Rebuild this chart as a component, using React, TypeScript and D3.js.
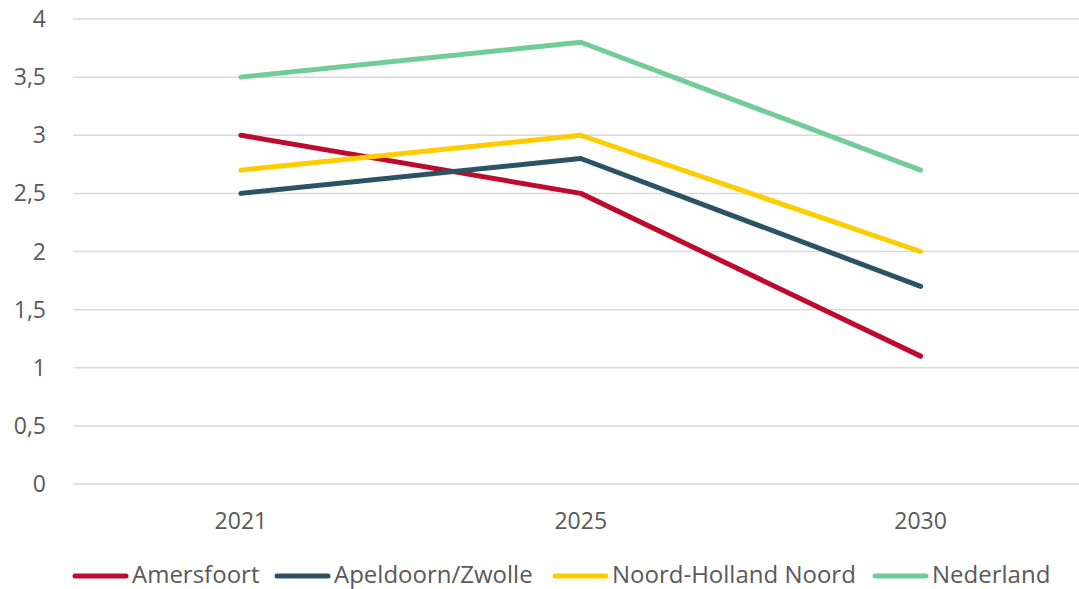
import React, { useEffect, useRef } from "react";
import * as d3 from "d3";

const categories = ["2021", "2025", "2030"];
const seriesNames = ["Amersfoort", "Apeldoorn/Zwolle", "Noord-Holland Noord", "Nederland"];
const amersfoort = [3.0, 2.5, 1.1];
const apeldoornZwolle = [2.5, 2.8, 1.7];
const noordHollandNoord = [2.7, 3.0, 2.0];
const nederland = [3.5, 3.8, 2.7];
const yTicks = [0, 0.5, 1, 1.5, 2, 2.5, 3, 3.5, 4];
const colors = ["#BE0A2F", "#2C5364", "#FFCC00", "#72CC98"];

const W = 1079;
const H = 589;

export default function App() {
  const ref = useRef<SVGSVGElement>(null);
  useEffect(() => {
    const svg = d3.select(ref.current);
    svg.selectAll("*").remove();
    const font = "'Open Sans', sans-serif";
    const txt = "#595959";
    const x = d3.scaleBand().domain(categories).range([71, 1090.5]);
    const y = d3.scaleLinear().domain([0, 4]).range([484, 19]);

    const g = svg.append("g");
    g.selectAll("line.grid")
      .data(yTicks)
      .enter()
      .append("line")
      .attr("x1", 73)
      .attr("x2", W)
      .attr("y1", (d) => y(d))
      .attr("y2", (d) => y(d))
      .attr("stroke", "#D9D9D9")
      .attr("stroke-width", 1.5);

    g.selectAll("text.ytick")
      .data(yTicks)
      .enter()
      .append("text")
      .attr("x", 46)
      .attr("y", (d) => y(d))
      .attr("dy", "0.35em")
      .attr("text-anchor", "end")
      .attr("font-family", font)
      .attr("font-size", 23)
      .attr("fill", txt)
      .text((d) => String(d).replace(".", ","));

    g.selectAll("text.xtick")
      .data(categories)
      .enter()
      .append("text")
      .attr("x", (d) => (x(d) as number) + x.bandwidth() / 2)
      .attr("y", 529)
      .attr("text-anchor", "middle")
      .attr("font-family", font)
      .attr("font-size", 23)
      .attr("fill", txt)
      .text((d) => d);

    const data = [amersfoort, apeldoornZwolle, noordHollandNoord, nederland];
    const line = d3
      .line<number>()
      .x((_, i) => (x(categories[i]) as number) + x.bandwidth() / 2)
      .y((d) => y(d));
    data.forEach((vals, i) => {
      g.append("path")
        .attr("d", line(vals))
        .attr("fill", "none")
        .attr("stroke", colors[i])
        .attr("stroke-width", 5)
        .attr("stroke-linecap", "round")
        .attr("stroke-linejoin", "round");
    });

    const legendX = [73, 275, 553, 873];
    seriesNames.forEach((name, i) => {
      g.append("line")
        .attr("x1", legendX[i] + 2)
        .attr("x2", legendX[i] + 53)
        .attr("y1", 576)
        .attr("y2", 576)
        .attr("stroke", colors[i])
        .attr("stroke-width", 5)
        .attr("stroke-linecap", "round");
      g.append("text")
        .attr("x", legendX[i] + 59)
        .attr("y", 583)
        .attr("font-family", font)
        .attr("font-size", 24)
        .attr("fill", txt)
        .text(name);
    });
  }, []);
  return (
    <svg
      ref={ref}
      width={W}
      height={H}
      style={{ position: "absolute", left: 0, top: 0, background: "#fff" }}
    />
  );
}
